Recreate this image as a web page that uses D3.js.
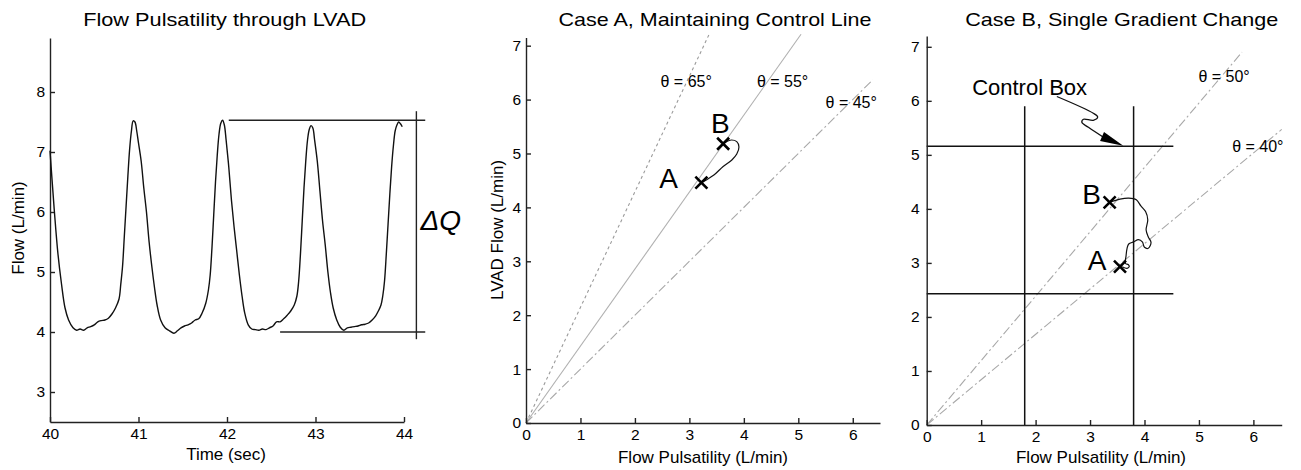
<!DOCTYPE html>
<html>
<head>
<meta charset="utf-8">
<script src="https://cdn.jsdelivr.net/npm/d3@7"></script>
<style>
  body { margin: 0; background: #fff; }
  svg { display: block; font-family: 'Liberation Sans', Arial, sans-serif; }
</style>
</head>
<body>
<svg width="1301" height="470"></svg>
<script>
// ---- panel 1: flow through the LVAD (sec, L/min)
const flowTime = [
  40.00, 40.02, 40.05, 40.09, 40.13, 40.17, 40.21, 40.26, 40.30, 40.34, 40.38, 40.42, 40.46, 40.50,
  40.54, 40.58, 40.62, 40.66, 40.70, 40.74, 40.78, 40.80, 40.82, 40.84, 40.86, 40.88, 40.90, 40.92,
  40.94, 40.96, 40.98, 41.00, 41.03, 41.06, 41.09, 41.12, 41.15, 41.18, 41.21, 41.25, 41.30, 41.35,
  41.40, 41.44, 41.48, 41.52, 41.56, 41.60, 41.64, 41.68, 41.72, 41.76, 41.79, 41.81, 41.83, 41.85,
  41.87, 41.89, 41.91, 41.93, 41.95, 41.97, 41.99, 42.02, 42.05, 42.08, 42.11, 42.14, 42.17, 42.20,
  42.24, 42.28, 42.32, 42.36, 42.40, 42.44, 42.48, 42.52, 42.56, 42.60, 42.64, 42.68, 42.72, 42.76,
  42.79, 42.81, 42.83, 42.85, 42.87, 42.89, 42.91, 42.93, 42.95, 42.97, 42.99, 43.02, 43.05, 43.08,
  43.11, 43.14, 43.17, 43.20, 43.24, 43.28, 43.32, 43.36, 43.40, 43.44, 43.48, 43.52, 43.56, 43.60,
  43.64, 43.68, 43.71, 43.74, 43.76, 43.78, 43.80, 43.82, 43.84, 43.86, 43.88, 43.90, 43.92, 43.94,
  43.96, 43.98
];
const flowValue = [
  7.02, 6.60, 6.00, 5.30, 4.80, 4.40, 4.20, 4.07, 4.03, 4.05, 4.03, 4.07, 4.09, 4.12,
  4.17, 4.19, 4.20, 4.23, 4.30, 4.40, 4.55, 4.80, 5.10, 5.60, 6.10, 6.60, 7.05, 7.35,
  7.52, 7.50, 7.35, 7.15, 6.85, 6.40, 6.00, 5.50, 5.10, 4.75, 4.45, 4.20, 4.07, 4.02,
  3.98, 4.02, 4.07, 4.10, 4.12, 4.15, 4.20, 4.22, 4.32, 4.48, 4.70, 4.95, 5.40, 5.95,
  6.50, 6.95, 7.30, 7.48, 7.53, 7.45, 7.20, 6.75, 6.20, 5.75, 5.35, 4.95, 4.60, 4.32,
  4.12, 4.05, 4.04, 4.03, 4.05, 4.04, 4.07, 4.10, 4.17, 4.17, 4.22, 4.28, 4.35, 4.45,
  4.60, 4.85, 5.30, 5.85, 6.40, 6.85, 7.20, 7.38, 7.44, 7.40, 7.20, 6.85, 6.35, 5.85,
  5.45, 5.00, 4.65, 4.40, 4.20, 4.08, 4.03, 4.07, 4.08, 4.09, 4.10, 4.12, 4.13, 4.15,
  4.20, 4.27, 4.35, 4.45, 4.60, 4.85, 5.30, 5.80, 6.30, 6.75, 7.10, 7.35, 7.45, 7.50,
  7.47, 7.42
];
const timeTicks = [40, 41, 42, 43, 44];
const flowTicks = [3, 4, 5, 6, 7, 8];
const dqTop = 7.53;      // top of the pulse (dQ)
const dqBottom = 4.0;    // bottom of the pulse

// ---- panel 2: case A
const caseAAngles = [65, 55, 45];
const caseAEndX = [3.36, 5.05, 6.37];
const caseALabels = [[2.47, 6.23], [4.24, 6.23], [5.50, 5.84]];
const caseATrack = [
  [3.22, 4.46], [3.31, 4.51], [3.45, 4.60], [3.62, 4.76], [3.78, 4.88], [3.87, 4.99],
  [3.91, 5.12], [3.87, 5.22], [3.77, 5.25], [3.68, 5.22], [3.62, 5.18]
];
const caseAPoints = [
  { name: 'A', x: 3.22, y: 4.46, lx: 2.62, ly: 4.36 },
  { name: 'B', x: 3.62, y: 5.18, lx: 3.57, ly: 5.38 }
];

// ---- panel 3: case B
const caseBAngles = [50, 40];
const caseBEndX = [5.79, 6.52];
const caseBLabels = [[4.99, 6.35], [5.61, 5.06]];
const boxX = [1.80, 3.80];
const boxY = [2.43, 5.16];
const boxTop = 5.9;
const boxRight = 4.53;
const caseBTrack = [
  [3.36, 4.12], [3.55, 4.18], [3.71, 4.20], [3.85, 4.17], [3.93, 4.06], [4.02, 3.95],
  [4.06, 3.80], [4.03, 3.61], [4.07, 3.48], [4.12, 3.38], [4.07, 3.27], [4.00, 3.29],
  [3.96, 3.39], [3.89, 3.43], [3.80, 3.39], [3.71, 3.35], [3.68, 3.27], [3.66, 3.12],
  [3.65, 2.99], [3.70, 2.97], [3.72, 2.93], [3.68, 2.90], [3.59, 2.93]
];
const caseBPoints = [
  { name: 'B', x: 3.36, y: 4.12, lx: 3.03, ly: 4.09 },
  { name: 'A', x: 3.55, y: 2.93, lx: 3.13, ly: 2.86 }
];
const arrowPath = [
  [2.39, 6.08], [3.06, 5.77], [3.14, 5.70], [3.06, 5.64], [2.88, 5.66],
  [2.85, 5.60], [2.97, 5.51], [3.61, 5.17]
];

const pulsTicks = [0, 1, 2, 3, 4, 5, 6];
const lvadTicks = [0, 1, 2, 3, 4, 5, 6, 7];

const svg = d3.select('svg');
const rad = Math.PI / 180;

function drawAxes(x, y, xTicks, yTicks, yPad) {
  const gx = svg.append('g')
    .attr('transform', `translate(0,${y.range()[0]})`)
    .call(d3.axisBottom(x).tickValues(xTicks).tickFormat(d3.format('d'))
      .tickSizeInner(-5).tickSizeOuter(0).tickPadding(6));
  const gy = svg.append('g')
    .attr('transform', `translate(${x.range()[0]},0)`)
    .call(d3.axisLeft(y).tickValues(yTicks).tickFormat(d3.format('d'))
      .tickSizeInner(-5).tickSizeOuter(0).tickPadding(yPad));
  [gx, gy].forEach(g => {
    g.attr('font-size', 15.5).attr('font-family', null);
    g.selectAll('path, line').attr('stroke', '#222').attr('stroke-width', 1.4);
    g.selectAll('text').attr('fill', '#000');
  });
}

function title(text, cx, w) {
  svg.append('text')
    .attr('x', cx).attr('y', 26)
    .attr('text-anchor', 'middle')
    .attr('font-size', 19)
    .attr('textLength', w).attr('lengthAdjust', 'spacingAndGlyphs')
    .attr('fill', '#000')
    .text(text);
}

function axisLabel(text, x, y, rotate) {
  svg.append('text')
    .attr('transform', `translate(${x},${y})` + (rotate ? ' rotate(-90)' : ''))
    .attr('text-anchor', 'middle')
    .attr('font-size', 17)
    .attr('fill', '#000')
    .text(text);
}

function cross(x, y, p) {
  svg.append('path')
    .attr('d', 'M-6,-6L6,6M-6,6L6,-6')
    .attr('transform', `translate(${x(p.x)},${y(p.y)})`)
    .attr('stroke', '#000').attr('stroke-width', 2.6);
  svg.append('text')
    .attr('x', x(p.lx)).attr('y', y(p.ly))
    .attr('text-anchor', 'middle')
    .attr('font-size', 28)
    .text(p.name);
}

// ================= panel 1
const x1 = d3.scaleLinear().domain([40, 44]).range([50, 404]);
const y1 = d3.scaleLinear().domain([2.5, 8.9]).range([422, 38]);
drawAxes(x1, y1, timeTicks, flowTicks, 5);
title('Flow Pulsatility through LVAD', 224.7, 283);
axisLabel('Time (sec)', 226, 460, false);
axisLabel('Flow (L/min)', 24, 228, true);

const flowLine = d3.line().x(d => x1(d[0])).y(d => y1(d[1])).curve(d3.curveCatmullRom);
svg.append('path')
  .datum(flowTime.map((t, i) => [t, flowValue[i]]))
  .attr('d', flowLine)
  .attr('fill', 'none').attr('stroke', '#111').attr('stroke-width', 1.4);

// dQ bracket
const dq = svg.append('g').attr('stroke', '#222').attr('stroke-width', 1.4);
dq.append('line').attr('x1', x1(42.02)).attr('x2', x1(44.24)).attr('y1', y1(dqTop)).attr('y2', y1(dqTop));
dq.append('line').attr('x1', x1(42.6)).attr('x2', x1(44.24)).attr('y1', y1(dqBottom)).attr('y2', y1(dqBottom));
dq.append('line').attr('x1', x1(44.14)).attr('x2', x1(44.14)).attr('y1', y1(dqTop + 0.15)).attr('y2', y1(dqBottom - 0.12));
svg.append('text')
  .attr('x', x1(44.14) + 4).attr('y', 230)
  .attr('font-size', 28).attr('font-style', 'italic')
  .text('ΔQ');

// ================= panel 2
const x2 = d3.scaleLinear().domain([0, 6.5]).range([526, 880]);
const y2 = d3.scaleLinear().domain([0, 7.15]).range([423, 37.6]);
const styleA = [
  { dash: '3,3', color: '#9a9a9a' },
  { dash: null, color: '#b0b0b0' },
  { dash: '9,3,2,3', color: '#a8a8a8' }
];
caseAAngles.forEach((a, i) => {
  const ex = caseAEndX[i];
  svg.append('line')
    .attr('x1', x2(0)).attr('y1', y2(0))
    .attr('x2', x2(ex)).attr('y2', y2(ex * Math.tan(a * rad)))
    .attr('stroke', styleA[i].color).attr('stroke-width', 1.1)
    .attr('stroke-dasharray', styleA[i].dash);
  svg.append('text')
    .attr('x', x2(caseALabels[i][0])).attr('y', y2(caseALabels[i][1]))
    .attr('font-size', 16).attr('fill', '#000')
    .text(`θ = ${a}°`);
});
drawAxes(x2, y2, pulsTicks, lvadTicks, 5);
title('Case A, Maintaining Control Line', 715, 313);
axisLabel('Flow Pulsatility (L/min)', 703, 463, false);
axisLabel('LVAD Flow (L/min)', 503, 230, true);

const trackA = d3.line().x(d => x2(d[0])).y(d => y2(d[1])).curve(d3.curveCatmullRom);
svg.append('path').datum(caseATrack).attr('d', trackA)
  .attr('fill', 'none').attr('stroke', '#111').attr('stroke-width', 1.2);
caseAPoints.forEach(p => cross(x2, y2, p));

// ================= panel 3
const x3 = d3.scaleLinear().domain([0, 6.52]).range([926.7, 1281.7]);
const y3 = d3.scaleLinear().domain([0, 7.2]).range([425, 36]);
caseBAngles.forEach((a, i) => {
  const ex = caseBEndX[i];
  svg.append('line')
    .attr('x1', x3(0)).attr('y1', y3(0))
    .attr('x2', x3(ex)).attr('y2', y3(ex * Math.tan(a * rad)))
    .attr('stroke', '#a8a8a8').attr('stroke-width', 1.1)
    .attr('stroke-dasharray', '9,3,2,3');
  svg.append('text')
    .attr('x', x3(caseBLabels[i][0])).attr('y', y3(caseBLabels[i][1]))
    .attr('font-size', 16).attr('fill', '#000')
    .text(`θ = ${a}°`);
});

const box = svg.append('g').attr('stroke', '#111').attr('stroke-width', 1.5);
boxX.forEach(v => box.append('line')
  .attr('x1', x3(v)).attr('x2', x3(v)).attr('y1', y3(0)).attr('y2', y3(boxTop)));
boxY.forEach(v => box.append('line')
  .attr('x1', x3(0)).attr('x2', x3(boxRight)).attr('y1', y3(v)).attr('y2', y3(v)));

drawAxes(x3, y3, pulsTicks, lvadTicks, 7);
title('Case B, Single Gradient Change', 1121.7, 313);
axisLabel('Flow Pulsatility (L/min)', 1101, 463, false);

const trackB = d3.line().x(d => x3(d[0])).y(d => y3(d[1])).curve(d3.curveCatmullRom);
svg.append('path').datum(caseBTrack).attr('d', trackB)
  .attr('fill', 'none').attr('stroke', '#111').attr('stroke-width', 1.2);
caseBPoints.forEach(p => cross(x3, y3, p));

svg.append('text')
  .attr('x', x3(1.89)).attr('y', y3(6.11))
  .attr('text-anchor', 'middle').attr('font-size', 22)
  .text('Control Box');

// squiggly arrow pointing at the control box
svg.append('path').datum(arrowPath.slice(0, -1).concat([[3.30, 5.29]]))
  .attr('d', trackB)
  .attr('fill', 'none').attr('stroke', '#111').attr('stroke-width', 1.3);
{
  const tip = arrowPath[arrowPath.length - 1];
  const tx = x3(tip[0]), ty = y3(tip[1]);
  const bx = x3(3.22), by = y3(5.34);
  const ang = Math.atan2(ty - by, tx - bx);
  const nx = -Math.sin(ang) * 5, ny = Math.cos(ang) * 5;
  svg.append('path')
    .attr('d', `M${tx},${ty}L${bx + nx},${by + ny}L${bx - nx},${by - ny}Z`)
    .attr('fill', '#000');
}
</script>
</body>
</html>
